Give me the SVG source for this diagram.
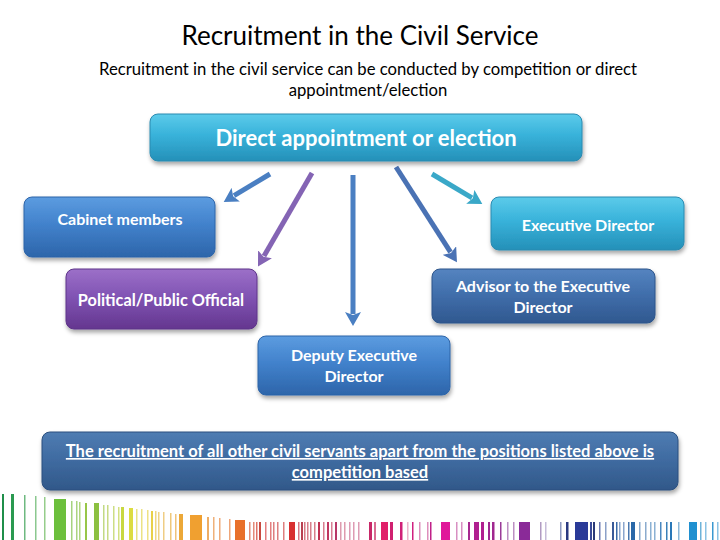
<svg xmlns="http://www.w3.org/2000/svg" width="720" height="540" viewBox="0 0 720 540">
<style>
.t{font-family:Lato,"Liberation Sans",sans-serif;fill:#000}
.w{font-family:Lato,"Liberation Sans",sans-serif;fill:#fff;text-anchor:middle;font-weight:bold}
.box{filter:url(#sh)}
.c{fill:none;stroke-width:5;stroke-linecap:butt}
</style>
<defs>
<filter id="sh" x="-10%" y="-20%" width="120%" height="150%">
<feDropShadow dx="1" dy="3" stdDeviation="2" flood-color="#000" flood-opacity="0.35"/>
</filter>
<linearGradient id="gCyan" x1="0" y1="0" x2="0" y2="1">
<stop offset="0" stop-color="#5ccbea"/><stop offset="0.45" stop-color="#38b2da"/><stop offset="1" stop-color="#2590b8"/>
</linearGradient>
<linearGradient id="gBlue" x1="0" y1="0" x2="0" y2="1">
<stop offset="0" stop-color="#5c9ce0"/><stop offset="0.45" stop-color="#4282cc"/><stop offset="1" stop-color="#2d65aa"/>
</linearGradient>
<linearGradient id="gPurple" x1="0" y1="0" x2="0" y2="1">
<stop offset="0" stop-color="#9c70c8"/><stop offset="0.45" stop-color="#8154b4"/><stop offset="1" stop-color="#64368f"/>
</linearGradient>
<linearGradient id="gDark" x1="0" y1="0" x2="0" y2="1">
<stop offset="0" stop-color="#5584c0"/><stop offset="0.45" stop-color="#416fac"/><stop offset="1" stop-color="#30588f"/>
</linearGradient>
<linearGradient id="gSlate" x1="0" y1="0" x2="0" y2="1">
<stop offset="0" stop-color="#4f7cb2"/><stop offset="0.45" stop-color="#406ca2"/><stop offset="1" stop-color="#315889"/>
</linearGradient>
<marker id="mB" markerUnits="userSpaceOnUse" viewBox="0 0 14 16" refX="2" refY="8" markerWidth="14" markerHeight="16" orient="auto"><path d="M0,0 L14,8 L0,16 L3,8 Z" fill="#4a7fc2"/></marker>
<marker id="mP" markerUnits="userSpaceOnUse" viewBox="0 0 14 16" refX="2" refY="8" markerWidth="14" markerHeight="16" orient="auto"><path d="M0,0 L14,8 L0,16 L3,8 Z" fill="#8464b4"/></marker>
<marker id="mC" markerUnits="userSpaceOnUse" viewBox="0 0 14 16" refX="2" refY="8" markerWidth="14" markerHeight="16" orient="auto"><path d="M0,0 L14,8 L0,16 L3,8 Z" fill="#3aa8c8"/></marker>
<marker id="mD" markerUnits="userSpaceOnUse" viewBox="0 0 14 16" refX="2" refY="8" markerWidth="14" markerHeight="16" orient="auto"><path d="M0,0 L14,8 L0,16 L3,8 Z" fill="#4a72b4"/></marker>
</defs>
<rect width="720" height="540" fill="#fff"/>
<text class="t" x="360" y="45" text-anchor="middle" font-size="26">Recruitment in the Civil Service</text>
<text class="t" x="368" y="75" text-anchor="middle" font-size="16.7">Recruitment in the civil service can be conducted by competition or direct</text>
<text class="t" x="368" y="96" text-anchor="middle" font-size="16.7">appointment/election</text>

<g id="connectors">
<line class="c" x1="270" y1="174" x2="234" y2="195.7" stroke="#4a7fc2" marker-end="url(#mB)"/>
<line class="c" x1="312" y1="173" x2="264" y2="256" stroke="#8464b4" marker-end="url(#mP)"/>
<line class="c" x1="353" y1="175" x2="353" y2="314" stroke="#4a7fc2" marker-end="url(#mB)"/>
<line class="c" x1="396" y1="167" x2="450.5" y2="252.2" stroke="#4a72b4" marker-end="url(#mD)"/>
<line class="c" x1="432" y1="174" x2="472" y2="197.8" stroke="#3aa8c8" marker-end="url(#mC)"/>
</g>

<g id="top">
<rect class="box" x="150" y="114" width="432" height="47" rx="8" fill="url(#gCyan)" stroke="#2a8ab0" stroke-width="1"/>
<text class="w" x="366" y="146" font-size="22">Direct appointment or election</text>
</g>
<g id="cabinet">
<rect class="box" x="24" y="197" width="191" height="60" rx="8" fill="url(#gBlue)" stroke="#2d64a8" stroke-width="1"/>
<text class="w" x="120" y="225" font-size="16">Cabinet members</text>
</g>
<g id="execdir">
<rect class="box" x="491" y="197" width="193" height="53" rx="8" fill="url(#gCyan)" stroke="#2a8ab0" stroke-width="1"/>
<text class="w" x="588" y="231" font-size="16">Executive Director</text>
</g>
<g id="political">
<rect class="box" x="66" y="269" width="191" height="60" rx="8" fill="url(#gPurple)" stroke="#5e3489" stroke-width="1"/>
<text class="w" x="161" y="306" font-size="16.3">Political/Public Official</text>
</g>
<g id="advisor">
<rect class="box" x="432" y="269" width="223" height="54" rx="8" fill="url(#gDark)" stroke="#2d558a" stroke-width="1"/>
<text class="w" x="543" y="292" font-size="16">Advisor to the Executive</text>
<text class="w" x="543" y="313" font-size="16">Director</text>
</g>
<g id="deputy">
<rect class="box" x="258" y="336" width="192" height="59" rx="8" fill="url(#gBlue)" stroke="#2d64a8" stroke-width="1"/>
<text class="w" x="354" y="361" font-size="16">Deputy Executive</text>
<text class="w" x="354" y="382" font-size="16">Director</text>
</g>
<g id="bottom">
<rect class="box" x="42" y="432" width="636" height="58" rx="8" fill="url(#gSlate)" stroke="#2b4f7e" stroke-width="1"/>
<text class="w" x="360" y="457" font-size="16.5" text-decoration="underline">The recruitment of all other civil servants apart from the positions listed above is</text>
<text class="w" x="360" y="478" font-size="16.5" text-decoration="underline">competition based</text>
</g>

<g id="barcode">
<rect x="2" y="494" width="2" height="46" fill="#1f8f4a"/>
<rect x="11" y="494" width="3" height="46" fill="#2a9a50"/>
<rect x="24" y="495" width="1.5" height="45" fill="#4aa860" opacity="0.8"/>
<rect x="35" y="496" width="1.5" height="44" fill="#5ab060" opacity="0.7"/>
<rect x="44" y="497" width="1.5" height="43" fill="#6ab85a" opacity="0.7"/>
<rect x="54" y="499" width="12" height="41" fill="#6cbf3c"/>
<rect x="71" y="501" width="1.5" height="39" fill="#80c048" opacity="0.7"/>
<rect x="76" y="501" width="1.5" height="39" fill="#88c24a" opacity="0.7"/>
<rect x="79" y="502" width="1.5" height="38" fill="#90c44a" opacity="0.7"/>
<rect x="85" y="503" width="2" height="37" fill="#98c648"/>
<rect x="94" y="503" width="5" height="37" fill="#8cc040"/>
<rect x="103" y="505" width="1.5" height="35" fill="#a8ca50" opacity="0.7"/>
<rect x="107" y="505" width="1.5" height="35" fill="#b0cc50" opacity="0.7"/>
<rect x="113" y="506" width="1.5" height="34" fill="#b8d050" opacity="0.7"/>
<rect x="118" y="507" width="1.5" height="33" fill="#c0d448" opacity="0.7"/>
<rect x="121" y="507" width="3" height="33" fill="#c8d840"/>
<rect x="129" y="508" width="4" height="32" fill="#dcdc40"/>
<rect x="136" y="509" width="1.5" height="31" fill="#e0d850" opacity="0.7"/>
<rect x="141" y="509" width="1.5" height="31" fill="#e4d650" opacity="0.7"/>
<rect x="147" y="510" width="1.5" height="30" fill="#e8d450" opacity="0.7"/>
<rect x="151" y="511" width="2" height="29" fill="#e8d048"/>
<rect x="155" y="511" width="1.5" height="29" fill="#e8c850" opacity="0.7"/>
<rect x="158" y="512" width="1.5" height="28" fill="#e8c050" opacity="0.7"/>
<rect x="163" y="512" width="1.5" height="28" fill="#e8b850" opacity="0.7"/>
<rect x="170" y="513" width="1.5" height="27" fill="#e8b040" opacity="0.7"/>
<rect x="175" y="514" width="1.5" height="26" fill="#e8a840" opacity="0.7"/>
<rect x="179" y="514" width="4" height="26" fill="#eca838"/>
<rect x="190" y="515" width="12" height="25" fill="#f0a030"/>
<rect x="207" y="517" width="2" height="23" fill="#e89840" opacity="0.8"/>
<rect x="213" y="517" width="1.5" height="23" fill="#e89040" opacity="0.7"/>
<rect x="219" y="518" width="1.5" height="22" fill="#e88840" opacity="0.7"/>
<rect x="229" y="519" width="1.5" height="21" fill="#e88040" opacity="0.7"/>
<rect x="235" y="520" width="10" height="20" fill="#e8702a"/>
<rect x="249" y="522" width="1.5" height="18" fill="#d86040" opacity="0.7"/>
<rect x="253" y="522" width="1.5" height="18" fill="#d85a40" opacity="0.7"/>
<rect x="256" y="522" width="1.5" height="18" fill="#d85040" opacity="0.8"/>
<rect x="259" y="522" width="2" height="18" fill="#c84a40"/>
<rect x="265" y="522" width="1.5" height="18" fill="#d84848" opacity="0.7"/>
<rect x="270" y="522" width="1.5" height="18" fill="#d84848" opacity="0.7"/>
<rect x="273" y="522" width="1.5" height="18" fill="#d04848" opacity="0.7"/>
<rect x="277" y="522" width="1.5" height="18" fill="#d04848" opacity="0.7"/>
<rect x="283" y="522" width="1.5" height="18" fill="#d04848" opacity="0.7"/>
<rect x="289" y="522" width="6" height="18" fill="#d83030"/>
<rect x="298" y="522" width="1.5" height="18" fill="#c84050" opacity="0.7"/>
<rect x="301" y="522" width="2" height="18" fill="#b84050"/>
<rect x="304" y="522" width="1.5" height="18" fill="#c84050" opacity="0.7"/>
<rect x="307" y="522" width="1.5" height="18" fill="#c84858" opacity="0.7"/>
<rect x="310" y="522" width="1.5" height="18" fill="#c84858" opacity="0.7"/>
<rect x="314" y="522" width="1.5" height="18" fill="#c84858" opacity="0.7"/>
<rect x="318" y="522" width="2" height="18" fill="#c03050"/>
<rect x="323" y="522" width="1.5" height="18" fill="#c84860" opacity="0.7"/>
<rect x="327" y="522" width="2" height="18" fill="#c03860"/>
<rect x="331" y="522" width="1.5" height="18" fill="#c84868" opacity="0.7"/>
<rect x="335" y="522" width="2" height="18" fill="#b83868"/>
<rect x="340" y="522" width="1.5" height="18" fill="#c85878" opacity="0.6"/>
<rect x="344" y="522" width="1.5" height="18" fill="#c85878" opacity="0.6"/>
<rect x="349" y="522" width="1.5" height="18" fill="#c85880" opacity="0.6"/>
<rect x="353" y="522" width="1.5" height="18" fill="#c85880" opacity="0.6"/>
<rect x="358" y="522" width="1.5" height="18" fill="#c85880" opacity="0.6"/>
<rect x="369" y="522" width="3" height="18" fill="#c82868"/>
<rect x="374" y="522" width="2" height="18" fill="#d04878" opacity="0.8"/>
<rect x="381" y="522" width="7" height="18" fill="#e0206a"/>
<rect x="390" y="522" width="3" height="18" fill="#d02070"/>
<rect x="400" y="522" width="2.5" height="18" fill="#d02078"/>
<rect x="407" y="522" width="1.5" height="18" fill="#e080a8" opacity="0.6"/>
<rect x="412" y="522" width="1.5" height="18" fill="#d02080"/>
<rect x="419" y="522" width="1.5" height="18" fill="#d060a0" opacity="0.7"/>
<rect x="427" y="522" width="1.5" height="18" fill="#d060a0" opacity="0.7"/>
<rect x="430" y="522" width="1.5" height="18" fill="#c02088"/>
<rect x="441" y="522" width="9" height="18" fill="#e0189a"/>
<rect x="456" y="522" width="1.5" height="18" fill="#c860a8" opacity="0.7"/>
<rect x="461" y="522" width="1.5" height="18" fill="#c860a8" opacity="0.7"/>
<rect x="468" y="522" width="2" height="18" fill="#a82890"/>
<rect x="474" y="522" width="5" height="18" fill="#b02090"/>
<rect x="481" y="522" width="3" height="18" fill="#b02090"/>
<rect x="488" y="522" width="2" height="18" fill="#a02890"/>
<rect x="492" y="522" width="2.5" height="18" fill="#a02890"/>
<rect x="500" y="522" width="1.5" height="18" fill="#9a3a98"/>
<rect x="507" y="522" width="1.5" height="18" fill="#a060a8" opacity="0.7"/>
<rect x="513" y="522" width="1.5" height="18" fill="#a060a8" opacity="0.7"/>
<rect x="519" y="522" width="11" height="18" fill="#8a2a98"/>
<rect x="540" y="522" width="1.5" height="18" fill="#9070a8" opacity="0.7"/>
<rect x="545" y="522" width="1.5" height="18" fill="#a090c0" opacity="0.6"/>
<rect x="560" y="522" width="1.5" height="18" fill="#6070a8" opacity="0.7"/>
<rect x="566" y="522" width="2.5" height="18" fill="#2a3a80"/>
<rect x="575" y="522" width="13" height="18" fill="#2a3a98"/>
<rect x="590" y="522" width="2" height="18" fill="#3a4a98"/>
<rect x="593" y="522" width="2" height="18" fill="#2a3a78"/>
<rect x="599" y="522" width="1.5" height="18" fill="#4a5aa0" opacity="0.8"/>
<rect x="605" y="522" width="1.5" height="18" fill="#5a78b0" opacity="0.7"/>
<rect x="612" y="522" width="2" height="18" fill="#3a5a98"/>
<rect x="616" y="522" width="1.5" height="18" fill="#3a6aa8"/>
<rect x="619" y="522" width="1.5" height="18" fill="#5a80b8" opacity="0.7"/>
<rect x="623" y="522" width="1.5" height="18" fill="#5a80b8" opacity="0.7"/>
<rect x="628" y="522" width="1.5" height="18" fill="#4a78b0"/>
<rect x="631" y="522" width="4" height="18" fill="#2a68a8"/>
<rect x="639" y="522" width="1.5" height="18" fill="#5a88b8" opacity="0.7"/>
<rect x="645" y="522" width="1.5" height="18" fill="#5a88b8" opacity="0.7"/>
<rect x="650" y="522" width="1.5" height="18" fill="#5a90c0" opacity="0.7"/>
<rect x="654" y="522" width="1.5" height="18" fill="#5a90c0" opacity="0.7"/>
<rect x="660" y="522" width="1.5" height="18" fill="#4a88c0"/>
<rect x="666" y="522" width="1.5" height="18" fill="#3a80b8"/>
<rect x="670" y="522" width="2" height="18" fill="#2a78b8"/>
<rect x="678" y="522" width="1.5" height="18" fill="#5a98c8" opacity="0.7"/>
<rect x="689" y="522" width="8" height="18" fill="#2090d0"/>
<rect x="700" y="522" width="1.5" height="18" fill="#4aa0d0" opacity="0.8"/>
<rect x="705" y="522" width="1.5" height="18" fill="#5aa8d8" opacity="0.7"/>
<rect x="712" y="522" width="1.5" height="18" fill="#3a98d0"/>
<rect x="717" y="522" width="1.5" height="18" fill="#5aa8d8" opacity="0.7"/>
</g>
</svg>
